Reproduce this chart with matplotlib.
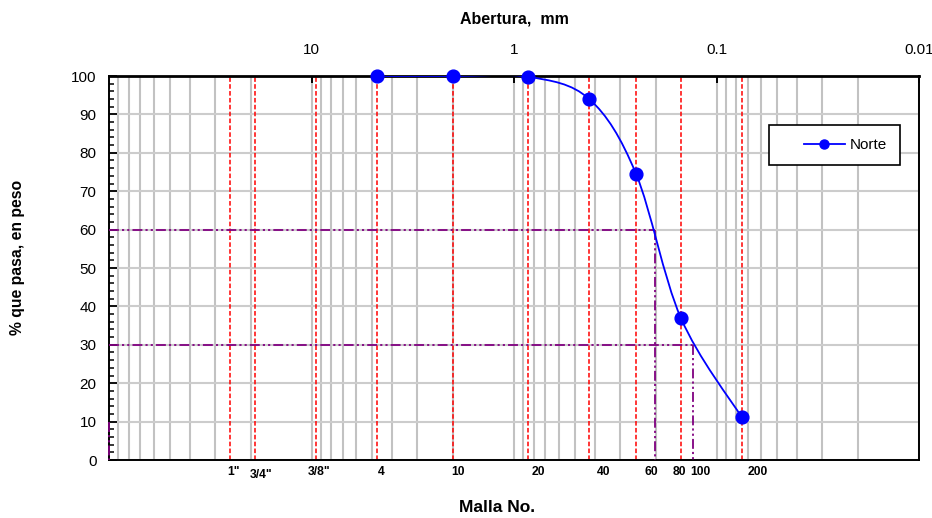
import numpy as np
import matplotlib
matplotlib.use("Agg")
import matplotlib.pyplot as plt
from matplotlib.path import Path
from matplotlib.patches import PathPatch
from matplotlib.lines import Line2D
from matplotlib.legend_handler import HandlerLine2D
from matplotlib.ticker import FixedLocator, FixedFormatter, MultipleLocator, LogLocator, NullFormatter

plt.rcParams['font.family'] = ['Liberation Sans', 'DejaVu Sans']

# Grain-size test results (sample "Norte")
diam_mm = [4.75, 2.0, 0.85, 0.425, 0.25, 0.15, 0.075]
passing = [100.0, 100.0, 99.8, 94.0, 74.6, 37.0, 11.1]
series_name = "Norte"

# Sieve openings shown as reference lines (mm)
sieve_openings = [25.4, 19.05, 9.525, 4.75, 2.0, 0.85, 0.425, 0.25, 0.15, 0.075]
# Sieve names written under the chart and where they are anchored (mm)
sieve_names = ['1"', '3/4"', '3/8"', '4', '10', '20', '40', '60', '80', '100', '200']
sieve_name_at = [24.3, 17.7, 9.13, 4.50, 1.89, 0.761, 0.362, 0.210, 0.1525, 0.120, 0.0626]
sieve_name_y = [-0.031, -0.040, -0.031, -0.031, -0.031, -0.031, -0.031, -0.031, -0.031, -0.031, -0.031]

# Characteristic diameters (mm) and their percentages
d_pct = [60, 30, 10]
d_val = [0.202, 0.130, 100.0]

top_ticks = [10, 1, 0.1, 0.01]
top_labels = ['10', '1', '0.1', '0.01']

fig = plt.figure(figsize=(9.32, 5.18), dpi=100)
ax = fig.add_axes([109 / 932, 58 / 518, 810 / 932, 384 / 518])
ax.set_xscale('log')
ax.set_xlim(100, 0.01)
ax.set_ylim(0, 100)

# axes ticks and grid
ax.xaxis.set_ticks_position('top')
ax.xaxis.set_major_locator(FixedLocator(top_ticks))
ax.xaxis.set_major_formatter(FixedFormatter(top_labels))
ax.xaxis.set_minor_locator(LogLocator(base=10, subs=np.arange(2, 10), numticks=20))
ax.xaxis.set_minor_formatter(NullFormatter())
ax.tick_params(axis='x', which='major', direction='in', length=5, width=1.4,
               labelsize=11, pad=14, colors='black')
ax.tick_params(axis='x', which='minor', length=0)
ax.yaxis.set_major_locator(MultipleLocator(10))
ax.yaxis.set_minor_locator(MultipleLocator(2))
ax.tick_params(axis='y', which='major', direction='in', length=6, width=1.3,
               labelsize=11, pad=9)
ax.tick_params(axis='y', which='minor', direction='in', length=3.5, width=1.1)

grid_col = '#c2c2c2'
ax.grid(True, axis='x', which='both', color=grid_col, lw=1.5, zorder=0)
ax.grid(True, axis='y', which='major', color='#cccccc', lw=1.5, zorder=0)
ax.set_axisbelow(True)

for side, sp in ax.spines.items():
    sp.set_color('black')
    sp.set_linewidth(1.4)
ax.spines['top'].set_linewidth(2.0)

# sieve reference lines
for d in sieve_openings:
    ax.axvline(d, color='red', lw=1.1, ls=(0, (3.0, 1.5)), zorder=1.5)

# D60 / D30 / D10 construction lines
purple_ls = (0, (5.5, 1.7, 1.2, 1.7, 1.2, 1.7))
for p, d in zip(d_pct, d_val):
    ax.plot([100, d], [p, p], color='#800080', lw=1.3, ls=purple_ls, zorder=3, clip_on=False)
    ax.plot([d, d], [p, 0], color='#800080', lw=1.3, ls=purple_ls, zorder=3, clip_on=False)

# smooth curve through the test points (Catmull-Rom as cubic Bezier in log space)
lx = np.log10(diam_mm)
yy = np.array(passing)
pts = np.column_stack([lx, yy])
ext = np.vstack([pts[0], pts, pts[-1]])
verts = [pts[0]]
codes = [Path.MOVETO]
for i in range(len(pts) - 1):
    p0, p1, p2, p3 = ext[i], ext[i + 1], ext[i + 2], ext[i + 3]
    c1 = p1 + (p2 - p0) / 6.0
    c2 = p2 - (p3 - p1) / 6.0
    verts += [c1, c2, p2]
    codes += [Path.CURVE4] * 3
verts = np.array(verts)
verts[:, 0] = 10 ** verts[:, 0]
curve = PathPatch(Path(verts, codes), fill=False, edgecolor='#0000ff', lw=1.3, zorder=4)
ax.add_patch(curve)
ax.plot(diam_mm, passing, 'o', color='#0000ff', ms=9.2, zorder=5, clip_on=False)


class ShiftedLine(HandlerLine2D):
    def create_artists(self, legend, orig_handle, xdescent, ydescent,
                       width, height, fontsize, trans):
        shift = 0.35 * width
        return super().create_artists(legend, orig_handle, xdescent - shift, ydescent,
                                      width - shift, height, fontsize, trans)


handle = Line2D([], [], color='#0000ff', lw=1.3, marker='o', ms=6.5)
leg = ax.legend([handle], [series_name], loc='upper left',
                bbox_to_anchor=((769 - 109) / 810, (460 - 125) / 384),
                borderaxespad=0, fontsize=11, handlelength=4.1, handletextpad=0.35,
                borderpad=0.85, fancybox=False, framealpha=1, edgecolor='black',
                handler_map={Line2D: ShiftedLine()})
leg.get_frame().set_linewidth(1.2)
leg.set_zorder(6)

# sieve names below the plot
xt = ax.get_xaxis_transform()
for name, xa, ya in zip(sieve_names, sieve_name_at, sieve_name_y):
    ax.text(xa, ya, name, transform=xt, ha='center', va='center',
            fontsize=8.7, fontweight='bold', clip_on=False)

fig.text(514 / 932, 1 - 19 / 518, 'Abertura,  mm', ha='center', va='center',
         fontsize=11.5, fontweight='bold')
fig.text(18 / 932, 1 - 257 / 518, '% que pasa, en peso', ha='center', va='center',
         rotation=90, fontsize=11.3, fontweight='bold')
fig.text(497 / 932, 1 - 507 / 518, 'Malla No.', ha='center', va='center',
         fontsize=12.5, fontweight='bold')

fig.savefig('out.png', dpi=100, facecolor='white')
